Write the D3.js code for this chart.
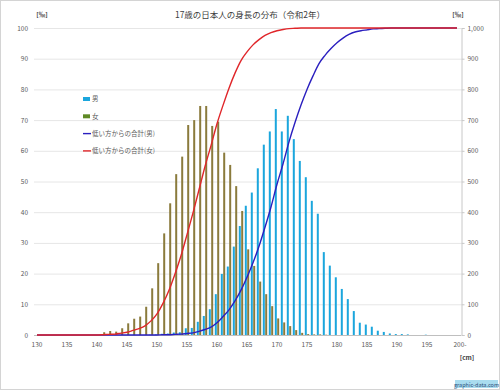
<!DOCTYPE html>
<html>
<head>
<meta charset="utf-8">
<script src="https://cdn.jsdelivr.net/npm/d3@7"></script>
<style>
  body { margin: 0; background: #fff; }
  svg text { font-family: "Noto Sans CJK JP", "Noto Sans", sans-serif; }
</style>
</head>
<body>
<svg width="500" height="390"></svg>
<script>
// 身長 130〜200cm (200 = 200cm以上)
const heights = d3.range(130, 201);

// 男 (‰)
const male = [
  0,0,0,0,0,0,0,0,0,0, 0,0,0,0,0,0,0,0,0,
  0.1,0.2,0.4,0.5,0.8,0.9,2.2,2.3,4.3,6.2,8.4,13.3,19.9,22.3,28.8,35.5,42.1,46.4,54.3,62.0,
  66.3,73.6,66.3,71.4,63.8,56.7,51.4,43.7,39.5,27.0,22.6,18.8,15.0,11.7,7.8,4.0,3.4,2.7,1.4,1.0,
  0.5,0.3,0.3,0.2,0,0,0.1,
  0,0,0,0,0
];

// 女 (‰)
const female = [
  0,0,0,0,0,0,0,0,0,0,0,
  0.9,1.3,1.1,2.2,3.8,5.3,6.0,9.2,15.2,23.4,33.1,42.9,52.4,58.1,68.4,70.0,74.6,74.6,68.1,69.5,
  59.4,55.4,48.5,40.4,27.9,22.5,17.4,13.3,9.4,5.4,4.1,2.9,1.6,0.7,0.3,0.2,0.2,0.1,
  0,0,0,0,0,0,0,0,0,0,0,0,0,0,0,0,0,0,0,0,0,0
];

// 低い方からの合計 (‰)
const maleCum = [
  0,0,0,0,0,0,0,0,0,0, 0,0,0,0,0,0,0,0,0,
  0,0,1,1,2,3,5,7,12,18,26,40,60,82,111,146,188,235,289,351,
  417,491,557,629,692,749,800,844,884,911,933,952,967,979,987,991,994,997,998,999,
  1000,1000,1000,1000,1000,1000,1000,1000,1000,1000,1000,1000
];
const femaleCum = [
  0,0,0,0,0,0,0,0,0,0,0,
  1,2,3,6,9,15,21,30,46,69,103,146,199,258,327,398,473,549,617,688,
  748,804,853,894,922,945,962,976,985,991,995,998,999,1000,
  1000,1000,1000,1000,1000,1000,1000,1000,1000,1000,1000,1000,1000,
  1000,1000,1000,1000,1000,1000,1000,1000,1000,1000,1000,1000,1000
];

const xLabels = ["130","135","140","145","150","155","160","165","170","175","180","185","190","195","200-"];
const leftTicks = d3.range(0, 101, 10);
const rightTicks = d3.range(0, 1001, 100);

const legendItems = [
  { label: "男", type: "bar", color: "#1ba6dd" },
  { label: "女", type: "bar", color: "#5f8a25" },
  { label: "低い方からの合計(男)", type: "line", color: "#2a1fbf" },
  { label: "低い方からの合計(女)", type: "line", color: "#e0262a" }
];

const svg = d3.select("svg");
const colMale = "#1ba6dd";
const colFemale = "#8a7b3c";

// 枠
svg.append("rect")
  .attr("x", 0.5).attr("y", 0.5)
  .attr("width", 499).attr("height", 389)
  .attr("fill", "#fff")
  .attr("stroke", "#d4d4d4");

const x = d3.scaleBand()
  .domain(heights.map(String))
  .range([34, 460])
  .padding(0);

const y = d3.scaleLinear().domain([0, 100]).range([335, 28]);
const y2 = d3.scaleLinear().domain([0, 1000]).range([335, 28]);

// グリッド
svg.append("g")
  .selectAll("line")
  .data(leftTicks)
  .enter()
  .append("line")
  .attr("x1", 34).attr("x2", 461)
  .attr("y1", d => y(d) + 0.5).attr("y2", d => y(d) + 0.5)
  .attr("stroke", d => d === 0 ? "#bfbfbf" : "#e6e6e6")
  .attr("stroke-width", 1);

// 左軸
const yAxis = d3.axisLeft(y).tickValues(leftTicks).tickSize(0).tickPadding(0);
svg.append("g")
  .attr("class", "y-axis")
  .attr("transform", "translate(28,0)")
  .call(yAxis)
  .call(g => g.select(".domain").remove());

// 右軸
const y2Axis = d3.axisRight(y2).tickValues(rightTicks).tickSize(3).tickPadding(3);
svg.append("g")
  .attr("class", "y2-axis")
  .attr("transform", "translate(461.5,0)")
  .call(y2Axis);

svg.selectAll(".y2-axis .domain").attr("stroke", "#c8c8c8");
svg.selectAll(".y2-axis line").attr("stroke", "#c8c8c8");
svg.selectAll(".y-axis text, .y2-axis text")
  .attr("fill", "#595959")
  .style("font-size", "6.5px");

// x軸ラベル
const xAxis = d3.axisBottom(x)
  .tickValues(heights.filter(h => h % 5 === 0).map(String))
  .tickFormat((d, i) => xLabels[i])
  .tickSize(0).tickPadding(5);
svg.append("g")
  .attr("class", "x-axis")
  .attr("transform", "translate(0,337)")
  .call(xAxis)
  .call(g => g.select(".domain").remove());
svg.selectAll(".x-axis text")
  .attr("fill", "#595959")
  .style("font-size", "6.5px");
svg.selectAll(".x-axis .tick").filter((d, i) => i === xLabels.length - 1)
  .select("text").attr("dx", "3px");

// 棒 男
const cx = d => x(String(d)) + x.bandwidth() / 2;
svg.append("g")
  .selectAll("rect")
  .data(heights.map((h, i) => ({ h, v: male[i] })))
  .enter()
  .append("rect")
  .attr("x", d => cx(d.h) - 2.2)
  .attr("y", d => y(d.v))
  .attr("width", 2)
  .attr("height", d => y(0) - y(d.v))
  .attr("fill", colMale);

// 棒 女
svg.append("g")
  .selectAll("rect")
  .data(heights.map((h, i) => ({ h, v: female[i] })))
  .enter()
  .append("rect")
  .attr("x", d => cx(d.h) + 0.2)
  .attr("y", d => y(d.v))
  .attr("width", 2)
  .attr("height", d => y(0) - y(d.v))
  .attr("fill", colFemale);

// 合計線
const line = d3.line()
  .x(d => cx(d.h))
  .y(d => y2(d.v))
  .curve(d3.curveMonotoneX);

svg.append("path")
  .datum(heights.map((h, i) => ({ h, v: maleCum[i] })))
  .attr("d", line)
  .attr("fill", "none")
  .attr("stroke", "#2a1fbf")
  .attr("stroke-width", 1.4);

svg.append("path")
  .datum(heights.map((h, i) => ({ h, v: femaleCum[i] })))
  .attr("d", line)
  .attr("fill", "none")
  .attr("stroke", "#e0262a")
  .attr("stroke-width", 1.4);

// タイトル
svg.append("text")
  .attr("x", 250).attr("y", 18)
  .attr("text-anchor", "middle")
  .attr("fill", "#404040")
  .style("font-size", "8.5px")
  .text("17歳の日本人の身長の分布（令和2年）");

svg.append("text")
  .attr("x", 42).attr("y", 17)
  .attr("text-anchor", "middle")
  .attr("fill", "#404040")
  .style("font-size", "6.5px")
  .style("font-weight", "bold")
  .text("[‰]");

svg.append("text")
  .attr("x", 458).attr("y", 17)
  .attr("text-anchor", "middle")
  .attr("fill", "#404040")
  .style("font-size", "6.5px")
  .style("font-weight", "bold")
  .text("[‰]");

svg.append("text")
  .attr("x", 467).attr("y", 360)
  .attr("text-anchor", "middle")
  .attr("fill", "#404040")
  .style("font-size", "6.5px")
  .style("font-weight", "bold")
  .text("[cm]");

// 凡例
const legend = svg.append("g").attr("transform", "translate(83,99)");
const items = legend.selectAll("g")
  .data(legendItems)
  .enter()
  .append("g")
  .attr("transform", (d, i) => `translate(0,${i * 17.3})`);

items.filter(d => d.type === "bar")
  .append("rect")
  .attr("x", 0).attr("y", -2)
  .attr("width", 7).attr("height", 4)
  .attr("fill", d => d.color);

items.filter(d => d.type === "line")
  .append("line")
  .attr("x1", 0).attr("x2", 8)
  .attr("y1", 0).attr("y2", 0)
  .attr("stroke", d => d.color)
  .attr("stroke-width", 1.4);

items.append("text")
  .attr("x", 9).attr("y", 2.3)
  .attr("fill", "#595959")
  .style("font-size", "6.5px")
  .text(d => d.label);

// ロゴ
svg.append("rect")
  .attr("x", 455).attr("y", 380)
  .attr("width", 43).attr("height", 8)
  .attr("fill", "#a9dcef");
svg.append("text")
  .attr("x", 476.5).attr("y", 386.5)
  .attr("text-anchor", "middle")
  .attr("fill", "#2c4f7a")
  .style("font-size", "5.5px")
  .text("graphic-data.com");
</script>
</body>
</html>
